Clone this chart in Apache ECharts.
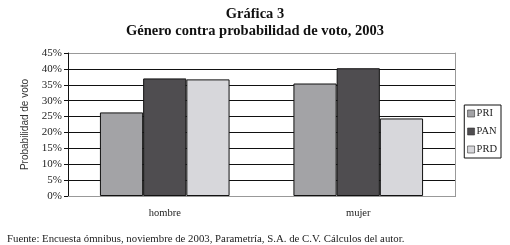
<!DOCTYPE html>
<html>
<head>
<meta charset="utf-8">
<script src="https://cdn.jsdelivr.net/npm/echarts@6/dist/echarts.min.js"></script>
<style>
  html, body { margin: 0; padding: 0; background: #fff; }
  #chart { width: 510px; height: 245px; }
</style>
</head>
<body>
<div id="chart"></div>
<script>
// datos
const categorias = ['hombre', 'mujer']
const partidos = ['PRI', 'PAN', 'PRD']
const valoresPRI = [26.3, 35.4]
const valoresPAN = [37.0, 40.2]
const valoresPRD = [36.7, 24.4]
const colores = ['#a3a3a6', '#4f4d50', '#d7d7db']

const serif = '"Liberation Serif", "DejaVu Serif", serif'

const myChart = echarts.init(document.getElementById('chart'))
const valores = [valoresPRI, valoresPAN, valoresPRD]

myChart.setOption({
  animation: false,
  title: [
    {
      text: 'Gráfica 3\nGénero contra probabilidad de voto, 2003',
      left: 'center',
      top: 1,
      textStyle: {
        fontFamily: serif,
        fontWeight: 'bold',
        fontSize: 14.5,
        lineHeight: 17,
        color: '#111',
      },
    },
    {
      text: 'Fuente: Encuesta ómnibus, noviembre de 2003, Parametría, S.A. de C.V. Cálculos del autor.',
      left: 2,
      top: 229,
      textStyle: {
        fontFamily: serif,
        fontWeight: 'normal',
        fontSize: 10.8,
        color: '#222',
      },
    },
  ],
  legend: {
    orient: 'vertical',
    data: partidos,
    right: 9,
    top: 105,
    itemWidth: 7,
    itemHeight: 7,
    itemGap: 7,
    padding: [3, 4, 3, 3],
    borderColor: '#111',
    borderWidth: 1,
    icon: 'rect',
    textStyle: {
      fontFamily: serif,
      fontSize: 10.5,
      color: '#222',
      padding: [0, 0, 0, -3],
    },
    itemStyle: { borderColor: '#333', borderWidth: 0.6 },
  },
  grid: {
    left: 68,
    right: 55,
    top: 53,
    bottom: 49,
    containLabel: false,
  },
  xAxis: [
    {
      type: 'category',
      data: categorias,
      axisLine: { lineStyle: { color: '#222', width: 1 } },
      axisTick: { show: false },
      axisLabel: {
        fontFamily: serif,
        fontSize: 10.5,
        color: '#222',
        margin: 12,
      },
    },
    {
      type: 'category',
      data: categorias,
      position: 'top',
      axisLine: { lineStyle: { color: '#999' } },
      axisTick: { show: false },
      axisLabel: { show: false },
    },
  ],
  yAxis: [
    {
      type: 'value',
      min: 0,
      max: 45,
      interval: 5,
      name: 'Probabilidad de voto',
      nameLocation: 'middle',
      nameGap: 38,
      nameTextStyle: {
        fontFamily: '"Liberation Sans", Arial, sans-serif',
        fontSize: 10,
        color: '#333',
      },
      axisLine: { show: true, lineStyle: { color: '#111' } },
      axisTick: { show: true, length: 4, lineStyle: { color: '#111' } },
      axisLabel: {
        formatter: '{value}%',
        fontFamily: serif,
        fontSize: 11,
        color: '#222',
        margin: 6,
      },
      splitLine: {
        show: true,
        lineStyle: {
          color: ['#111', '#111', '#111', '#111', '#111', '#111', '#111', '#111', '#111', '#999'],
          width: 1,
        },
      },
    },
    {
      type: 'value',
      min: 0,
      max: 45,
      interval: 5,
      position: 'right',
      axisLine: { show: true, lineStyle: { color: '#999' } },
      axisTick: { show: false },
      axisLabel: { show: false },
      splitLine: { show: false },
    },
  ],
  series: partidos.map((p, i) => ({
    name: p,
    type: 'bar',
    data: valores[i],
    barGap: '0%',
    barCategoryGap: '33%',
    itemStyle: {
      color: colores[i],
      borderColor: '#111',
      borderWidth: 1,
    },
  })),
})
</script>
</body>
</html>
